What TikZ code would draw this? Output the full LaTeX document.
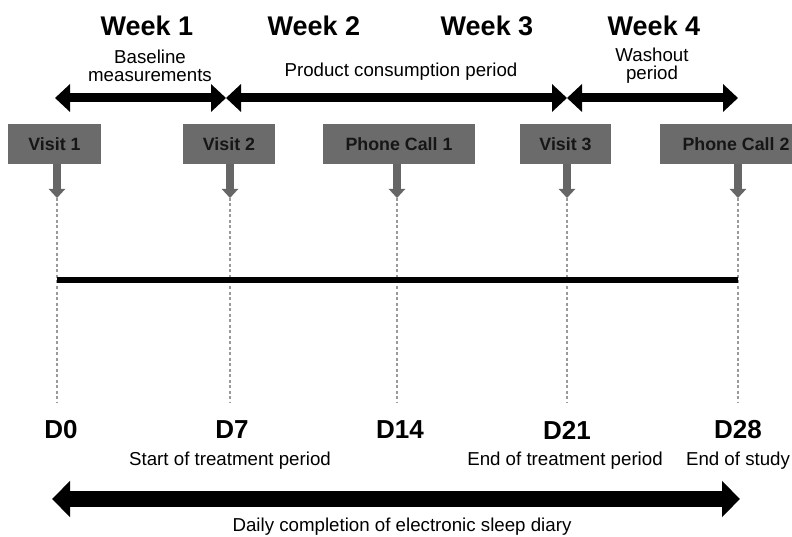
\documentclass[tikz,border=0pt]{standalone}
\usepackage{fontspec}
\setmainfont{Liberation Sans}
\usetikzlibrary{arrows.meta}
\definecolor{boxgray}{HTML}{6B6B6B}
\definecolor{arrgray}{HTML}{666666}
\definecolor{dashgray}{HTML}{9A9A9A}
\definecolor{boxtext}{HTML}{161616}
\begin{document}
\begin{tikzpicture}[x=1pt,y=-1pt,
  week/.style={font=\fontsize{27}{29}\selectfont\bfseries, inner sep=0pt},
  small/.style={font=\fontsize{18.7}{18}\selectfont, align=center, inner sep=0pt},
  dlabel/.style={font=\fontsize{26}{28}\selectfont\bfseries, inner sep=0pt},
  visitbox/.style={fill=boxgray, text=boxtext, font=\fontsize{17.8}{19}\selectfont\bfseries,
    minimum height=40pt, inner sep=0pt},
  topline/.style={line width=9pt, {Triangle[width=27pt,length=15pt]}-{Triangle[width=27pt,length=15pt]}},
  bottomline/.style={line width=16pt, {Triangle[width=35pt,length=18pt]}-{Triangle[width=35pt,length=18pt]}},
  visitarrow/.style={draw=arrgray, line width=7.5pt, -{Triangle[width=16pt,length=9pt]}},
  guide/.style={draw=dashgray, line width=1.1pt, dash pattern=on 3pt off 2.5pt},
  timeline/.style={line width=6pt}
]
\clip (0,0) rectangle (792,537);
\fill[white] (0,0) rectangle (792,537);

% Week headers
\node[week] (w1) at (147,26) {Week 1};
\node[week] (w2) at (314,26) {Week 2};
\node[week] (w3) at (487,26) {Week 3};
\node[week] (w4) at (654,26) {Week 4};

% period labels
\node[small] (base) at (150,66) {Baseline\\measurements};
\node[small] (prod) at (401,72) {Product consumption period};
\node[small] (wash) at (652,66) {Washout\\period};

% top period arrows
\coordinate (t0) at (55,98);
\coordinate (t1) at (226,98);
\coordinate (t2) at (567,98);
\coordinate (t3) at (738,98);
\draw[topline] (t0) -- (t1);
\draw[topline] (t1) -- (t2);
\draw[topline] (t2) -- (t3);

% visit boxes
\node[visitbox, minimum width=93pt] (v1) at (54.5,144) {Visit 1};
\node[visitbox, minimum width=92pt] (v2) at (229,144) {Visit 2};
\node[visitbox, minimum width=152pt] (pc1) at (399,144) {Phone Call 1};
\node[visitbox, minimum width=91pt] (v3) at (565.5,144) {Visit 3};
\node[visitbox, minimum width=152pt] (pc2) at (736,144) {Phone Call 2};

% arrow tips under boxes
\coordinate (a0) at (57,198);
\coordinate (a7) at (230,198);
\coordinate (a14) at (397,198);
\coordinate (a21) at (567,198);
\coordinate (a28) at (738,198);
\draw[visitarrow] (v1.south -| a0) -- (a0);
\draw[visitarrow] (v2.south -| a7) -- (a7);
\draw[visitarrow] (pc1.south -| a14) -- (a14);
\draw[visitarrow] (v3.south -| a21) -- (a21);
\draw[visitarrow] (pc2.south -| a28) -- (a28);

% dashed guides
\coordinate (g0) at (57,402);
\coordinate (g7) at (230,402);
\coordinate (g14) at (397,402);
\coordinate (g21) at (567,402);
\coordinate (g28) at (738,402);
\draw[guide] (a0) -- (g0);
\draw[guide] (a7) -- (g7);
\draw[guide] (a14) -- (g14);
\draw[guide] (a21) -- (g21);
\draw[guide] (a28) -- (g28);

% timeline
\coordinate (l0) at (57,280);
\coordinate (l28) at (738,280);
\draw[timeline] (l0) -- (l28);

% day labels
\node[dlabel] (d0) at (61,430) {D0};
\node[dlabel] (d7) at (232,430) {D7};
\node[dlabel] (d14) at (400,430) {D14};
\node[dlabel] (d21) at (567,430) {D21};
\node[dlabel] (d28) at (738,430) {D28};

\node[small] (s7) at (230,461) {Start of treatment period};
\node[small] (s21) at (565,461) {End of treatment period};
\node[small] (s28) at (738,461) {End of study};

% bottom arrow
\coordinate (b0) at (52,499);
\coordinate (b28) at (740,499);
\draw[bottomline] (b0) -- (b28);
\node[small] (diary) at (402,527) {Daily completion of electronic sleep diary};
\end{tikzpicture}
\end{document}
